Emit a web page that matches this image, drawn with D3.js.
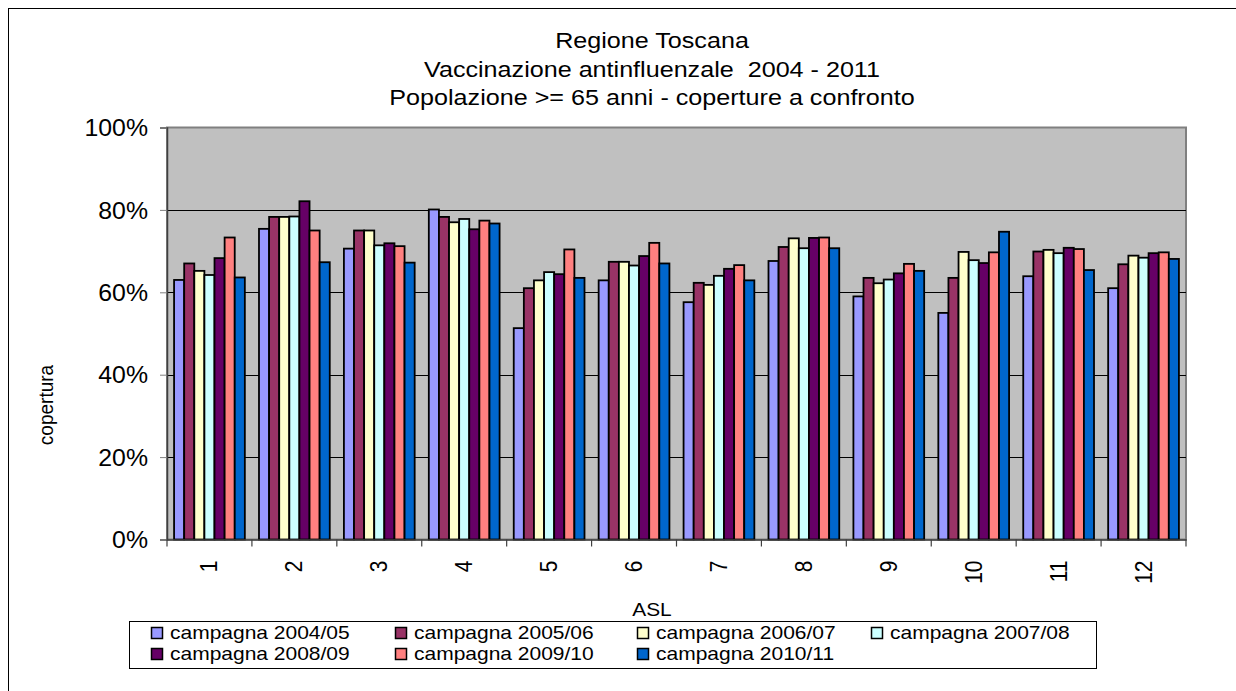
<!DOCTYPE html>
<html><head><meta charset="utf-8">
<script src="https://cdn.jsdelivr.net/npm/d3@7"></script>
<style>body{margin:0;background:#fff}svg{display:block}text{font-family:"Liberation Sans",Arial,sans-serif;fill:#000;white-space:pre}</style>
</head><body>
<svg id="c" width="1236" height="691"></svg>
<script>
const categories = ["1","2","3","4","5","6","7","8","9","10","11","12"];
const seriesNames = ["campagna 2004/05","campagna 2005/06","campagna 2006/07","campagna 2007/08","campagna 2008/09","campagna 2009/10","campagna 2010/11"];
const seriesColors = ["#9999FF","#993366","#FFFFCC","#CCFFFF","#660066","#FF8080","#0066CC"];
const s2004 = [63.0,75.4,70.6,80.1,51.3,62.9,57.6,67.6,59.0,55.0,63.9,61.0];
const s2005 = [67.0,78.3,75.0,78.3,61.0,67.4,62.3,71.0,63.5,63.5,69.9,66.8];
const s2006 = [65.2,78.3,75.0,77.0,62.9,67.4,61.8,73.1,62.2,69.8,70.3,68.9];
const s2007 = [64.2,78.4,71.4,77.8,64.9,66.5,64.0,70.7,63.1,67.8,69.5,68.4];
const s2008 = [68.3,82.1,71.9,75.3,64.4,68.8,65.7,73.2,64.6,67.1,70.8,69.5];
const s2009 = [73.3,75.0,71.2,77.4,70.4,72.0,66.6,73.3,66.9,69.7,70.5,69.7];
const s2010 = [63.6,67.3,67.2,76.7,63.5,67.0,62.9,70.7,65.2,74.7,65.4,68.1];
const yTicks = [0,20,40,60,80,100];
const titleLines = ["Regione Toscana","Vaccinazione antinfluenzale  2004 - 2011","Popolazione >= 65 anni - coperture a confronto"];

const seriesValues = [s2004,s2005,s2006,s2007,s2008,s2009,s2010];
const svg = d3.select("#c");
const P = {l:167, r:1186, t:127.5, b:539.5};
const SX = 1.15; // horizontal text stretch seen in the reference

// outer border
svg.append("rect").attr("x",8.5).attr("y",8.5).attr("width",1240).attr("height",700)
  .attr("fill","#fff").attr("stroke","#000").attr("stroke-width",1);

// title
svg.append("g").selectAll("text").data(titleLines).join("text")
  .attr("transform",(d,i)=>`translate(652,${48+i*28.5}) scale(${SX+0.02},1)`)
  .attr("text-anchor","middle").style("font-size","21.5px").text(d=>d);

const x0 = d3.scaleBand().domain(categories).range([P.l,P.r]).paddingInner(0).paddingOuter(0);
const x1 = d3.scaleBand().domain(d3.range(seriesNames.length)).range([0,x0.bandwidth()]).paddingInner(0).paddingOuter(0.7);
const y = d3.scaleLinear().domain([0,100]).range([P.b,P.t]);

// plot area
svg.append("rect").attr("x",P.l).attr("y",P.t).attr("width",P.r-P.l).attr("height",P.b-P.t)
  .attr("fill","#C0C0C0").attr("stroke","#808080").attr("stroke-width",2);

// gridlines
svg.append("g").selectAll("line").data(yTicks.filter(d=>d>0&&d<100)).join("line")
  .attr("x1",P.l).attr("x2",P.r).attr("y1",d=>Math.round(y(d))+0.5).attr("y2",d=>Math.round(y(d))+0.5)
  .attr("stroke","#000").attr("stroke-width",1);

// bars
const g = svg.append("g").selectAll("g").data(categories).join("g")
  .attr("transform",d=>`translate(${x0(d)},0)`);
g.selectAll("rect").data((c,ci)=>seriesValues.map((s,si)=>({si,v:s[ci]}))).join("rect")
  .attr("x",d=>x1(d.si)).attr("width",x1.bandwidth())
  .attr("y",d=>y(d.v)).attr("height",d=>y(0)-y(d.v))
  .attr("fill",d=>seriesColors[d.si]).attr("stroke","#000").attr("stroke-width",1.8);

// y axis
const yAxis = d3.axisLeft(y).tickValues(yTicks).tickFormat(d=>d+"%").tickSize(7).tickPadding(0);
const ya = svg.append("g").attr("transform",`translate(${P.l},0)`).call(yAxis);
ya.select(".domain").attr("stroke","#404040").attr("stroke-width",1.5);
ya.selectAll(".tick line").attr("stroke","#808080");
ya.selectAll(".tick text").style("font-size","23px").attr("fill","#000").attr("dy","0.36em")
  .attr("x",0).attr("transform","translate(-19,0) scale(1.08,1)");

// x axis
const xAxis = d3.axisBottom(x0).tickSize(0).tickPadding(0);
const xa = svg.append("g").attr("transform",`translate(0,${P.b})`).call(xAxis);
xa.select(".domain").attr("stroke","#404040").attr("stroke-width",1.5);
xa.selectAll(".tick text").style("font-size","21px").attr("fill","#000")
  .attr("text-anchor","end").attr("transform",`translate(8,21) scale(${SX},1) rotate(-90)`).attr("x",0).attr("y",0).attr("dy",0);
// category boundary ticks
svg.append("g").selectAll("line").data(categories.concat(["end"])).join("line")
  .attr("x1",(d,i)=>P.l+i*x0.step()).attr("x2",(d,i)=>P.l+i*x0.step())
  .attr("y1",P.b).attr("y2",P.b+7).attr("stroke","#404040").attr("stroke-width",1.2);

// axis titles
svg.append("text").attr("transform","translate(652,616) scale(1.1,1)").attr("text-anchor","middle").style("font-size","19px").text("ASL");
svg.append("text").attr("transform","translate(53,405) scale(1.1,1) rotate(-90)").attr("text-anchor","middle").style("font-size","19px").text("copertura");

// legend
svg.append("rect").attr("x",129.5).attr("y",621.5).attr("width",967).attr("height",47)
  .attr("fill","#fff").attr("stroke","#000").attr("stroke-width",1);
const colX = [151,395,637,871];
const rowY = [633,654];
const lg = svg.append("g").selectAll("g").data(seriesNames).join("g")
  .attr("transform",(d,i)=>`translate(${colX[i%4]},${rowY[Math.floor(i/4)]})`);
lg.append("rect").attr("x",0.5).attr("y",-5.5).attr("width",11).attr("height",11)
  .attr("fill",(d,i)=>seriesColors[i]).attr("stroke","#000").attr("stroke-width",1.5);
lg.append("text").attr("transform","translate(19,0) scale(1.2,1)").attr("dy","0.36em").style("font-size","17.5px").text(d=>d);
</script>
</body></html>
